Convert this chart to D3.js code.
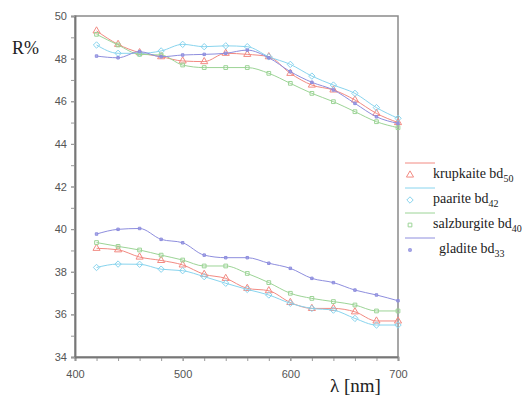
<!DOCTYPE html>
<html lang="en">
  <head>
    <meta charset="utf-8">
    <title>Reflectance spectra</title>
    <script src="https://d3js.org/d3.v7.js"></script>
    <style>
      body { margin: 0; background: #fff; }
      .tick text { font-family: "Liberation Sans", Arial, sans-serif; font-size: 11px; fill: #555; }
      .serif { font-family: "Liberation Serif", "DejaVu Serif", "Times New Roman", serif; fill: #222; }
    </style>
  </head>

  <body>
    <script>
      // wavelengths (nm)
      const lambda = [420, 440, 460, 480, 500, 520, 540, 560, 580, 600, 620, 640, 660, 680, 700];

      // upper branch (R1) and lower branch (R2), R%
      const krupkaiteR1 = [49.3, 48.67, 48.28, 48.09, 47.89, 47.86, 48.25, 48.2, 48.09, 47.31, 46.76, 46.53, 46.06, 45.43, 45.0];
      const krupkaiteR2 = [39.1, 39.03, 38.69, 38.53, 38.32, 37.88, 37.69, 37.22, 37.11, 36.56, 36.28, 36.28, 36.12, 35.69, 35.69];
      const paariteR1 = [48.64, 48.25, 48.25, 48.36, 48.67, 48.56, 48.6, 48.56, 48.09, 47.73, 47.18, 46.76, 46.37, 45.7, 45.2];
      const paariteR2 = [38.2, 38.36, 38.35, 38.12, 38.05, 37.77, 37.46, 37.17, 36.91, 36.52, 36.28, 36.2, 35.81, 35.5, 35.5];
      const salzburgiteR1 = [49.14, 48.64, 48.2, 48.17, 47.7, 47.58, 47.58, 47.58, 47.31, 46.84, 46.37, 45.98, 45.51, 45.04, 44.76];
      const salzburgiteR2 = [39.37, 39.19, 39.02, 38.78, 38.55, 38.27, 38.27, 37.92, 37.49, 36.99, 36.75, 36.6, 36.44, 36.16, 36.16];
      const gladiteR1 = [48.12, 48.04, 48.33, 48.09, 48.17, 48.2, 48.25, 48.4, 48.04, 47.39, 46.89, 46.53, 45.9, 45.27, 44.96];
      const gladiteR2 = [39.77, 39.99, 40.03, 39.52, 39.36, 38.78, 38.66, 38.66, 38.4, 38.16, 37.69, 37.49, 37.14, 36.91, 36.64];

      const names = ["krupkaite", "paarite", "salzburgite", "gladite"];
      const subs = ["50", "42", "40", "33"];
      const colors = ["#f28a82", "#88d4ee", "#9cd496", "#8e8ede"];
      const symbols = [d3.symbolTriangle, d3.symbolDiamond2, d3.symbolSquare, d3.symbolSquare];
      const symSizes = [22, 26, 14, 6];
      const seriesR = [
        [krupkaiteR1, krupkaiteR2],
        [paariteR1, paariteR2],
        [salzburgiteR1, salzburgiteR2],
        [gladiteR1, gladiteR2]
      ];

      const xTicks = [400, 500, 600, 700];
      const yTicks = [34, 36, 38, 40, 42, 44, 46, 48, 50];

      const w = 531;
      const h = 398;
      const box = { left: 75, right: 398, top: 16, bottom: 357 };

      const svg = d3.select("body")
        .append("svg")
        .attr("width", w)
        .attr("height", h);

      const xScale = d3.scaleLinear().domain([400, 700]).range([box.left, box.right]);
      const yScale = d3.scaleLinear().domain([34, 50]).range([box.bottom, box.top]);

      // frame
      svg.append("rect")
        .attr("x", box.left)
        .attr("y", box.top)
        .attr("width", box.right - box.left)
        .attr("height", box.bottom - box.top)
        .attr("fill", "none")
        .attr("stroke", "#8a8a8a")
        .attr("stroke-width", 1.5);

      // minor ticks
      const xAxisMinor = d3.axisBottom(xScale).tickValues(d3.range(400, 701, 20)).tickSize(4).tickFormat("");
      const yAxisMinor = d3.axisLeft(yScale).tickValues(d3.range(34, 50.1, 1)).tickSize(4).tickFormat("");

      const xAxis = d3.axisBottom(xScale).tickValues(xTicks).tickSize(4).tickPadding(9).tickFormat(d3.format("d"));
      const yAxis = d3.axisLeft(yScale).tickValues(yTicks).tickSize(4).tickPadding(4).tickFormat(d3.format("d"));

      [xAxisMinor, xAxis].forEach(ax => {
        const g = svg.append("g")
          .attr("transform", `translate(0, ${box.bottom})`)
          .call(ax);
        g.select(".domain").attr("stroke", "#777").attr("stroke-width", 1.5);
        g.selectAll(".tick line").attr("stroke", "#999");
      });

      [yAxisMinor, yAxis].forEach(ax => {
        const g = svg.append("g")
          .attr("transform", `translate(${box.left}, 0)`)
          .call(ax);
        g.select(".domain").attr("stroke", "#777").attr("stroke-width", 1.5);
        g.selectAll(".tick line").attr("stroke", "#999");
      });

      // curves
      const line = d3.line()
        .x((d, i) => xScale(lambda[i]))
        .y(d => yScale(d))
        .curve(d3.curveMonotoneX);

      const plot = svg.append("g").attr("id", "plot");

      seriesR.forEach((pair, k) => {
        pair.forEach(vals => {
          plot.append("path")
            .datum(vals)
            .attr("d", line)
            .attr("fill", "none")
            .attr("stroke", colors[k])
            .attr("stroke-width", 1);

          plot.selectAll(null)
            .data(vals)
            .enter().append("path")
            .attr("transform", (d, i) => `translate(${xScale(lambda[i])}, ${yScale(d)})`)
            .attr("d", d3.symbol().type(symbols[k]).size(symSizes[k]))
            .attr("fill", k === 3 ? colors[k] : "none")
            .attr("fill-opacity", k === 3 ? 0.6 : 1)
            .attr("stroke", colors[k])
            .attr("stroke-width", 1);
        });
      });

      // legend
      const legend = svg.append("g").attr("transform", "translate(405, 163)");
      names.forEach((name, k) => {
        const g = legend.append("g").attr("transform", `translate(0, ${k * 25})`);
        g.append("line")
          .attr("x1", 0).attr("x2", 30)
          .attr("y1", 0).attr("y2", 0)
          .attr("stroke", colors[k])
          .attr("stroke-width", 1);
        g.append("path")
          .attr("transform", "translate(5, 12)")
          .attr("d", d3.symbol().type(symbols[k]).size(symSizes[k]))
          .attr("fill", k === 3 ? colors[k] : "none")
          .attr("fill-opacity", k === 3 ? 0.6 : 1)
          .attr("stroke", colors[k]);
        const t = g.append("text")
          .attr("class", "serif")
          .attr("font-family", "Liberation Serif, serif")
          .attr("x", k === 3 ? 34 : 28)
          .attr("y", 15)
          .style("font-size", "14px");
        t.append("tspan").text(name + " bd");
        t.append("tspan")
          .attr("dy", 4)
          .style("font-size", "10px")
          .text(subs[k]);
      });

      // axis titles
      svg.append("text")
        .attr("class", "serif")
        .attr("font-family", "Liberation Serif, serif")
        .attr("x", 12)
        .attr("y", 54)
        .style("font-size", "18px")
        .text("R%");

      svg.append("text")
        .attr("class", "serif")
        .attr("font-family", "Liberation Serif, serif")
        .attr("x", 330)
        .attr("y", 392)
        .style("font-size", "19px")
        .text("λ [nm]");
    </script>
  </body>
</html>
